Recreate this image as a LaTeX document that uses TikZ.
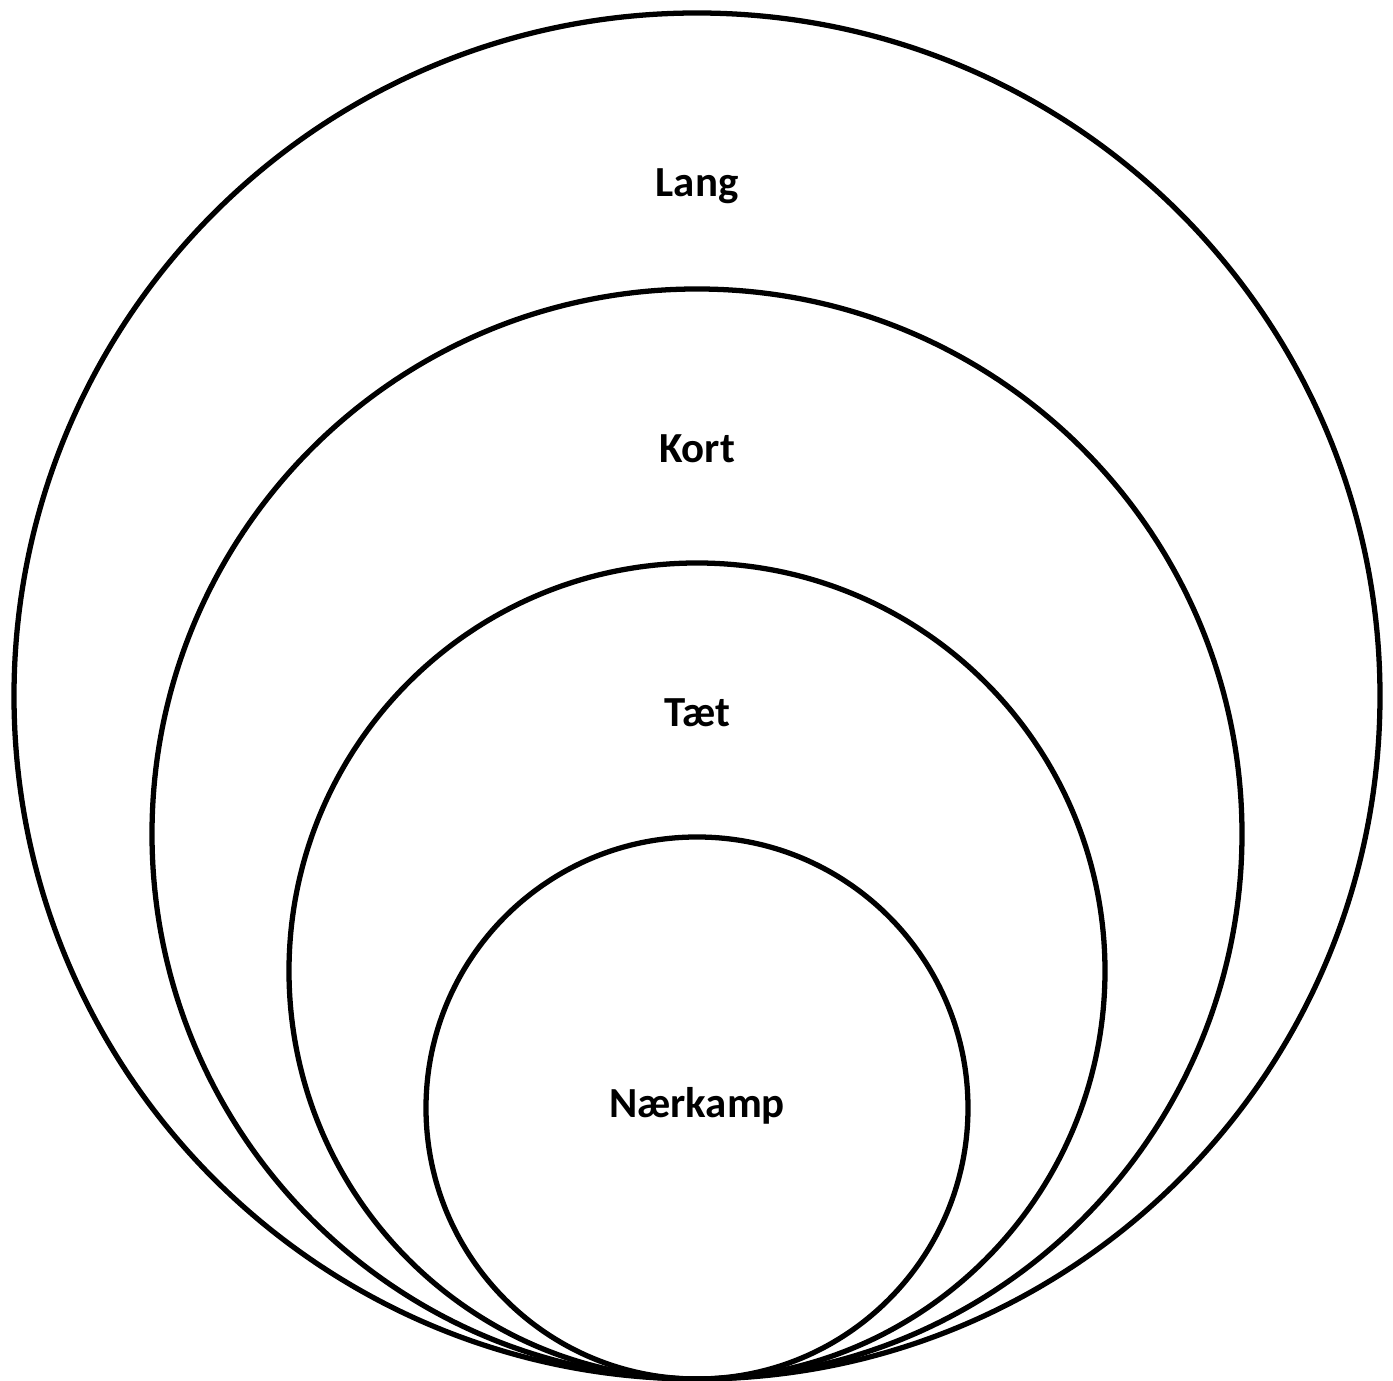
\documentclass[tikz,border=0pt]{standalone}
\usepackage{fontspec}
\setmainfont{Carlito}
\usepackage{tikz}
\usetikzlibrary{positioning,calc}

\begin{document}
\begin{tikzpicture}[x=1cm,y=1cm,
  ring/.style={draw=black,line width=1.5pt},
  zone/.style={font=\fontsize{12.2}{14}\selectfont\bfseries,anchor=base}]

\path[use as bounding box] (0,0) rectangle (13.93,-13.81);
% nested rings, all touching at the bottom point
\coordinate (bottom) at (6.97,-13.79);
\foreach \r in {6.83,5.45,4.08,2.71}
  \draw[ring] ($(bottom)+(0,\r)$) circle (\r);
\node[zone] (lang) at (6.97,-1.97) {Lang};
\node[zone] (kort) at (6.97,-4.63) {Kort};
\node[zone] (taet) at (6.97,-7.27) {Tæt};
\node[zone] (naerkamp) at (6.97,-11.18) {Nærkamp};

\end{tikzpicture}
\end{document}
